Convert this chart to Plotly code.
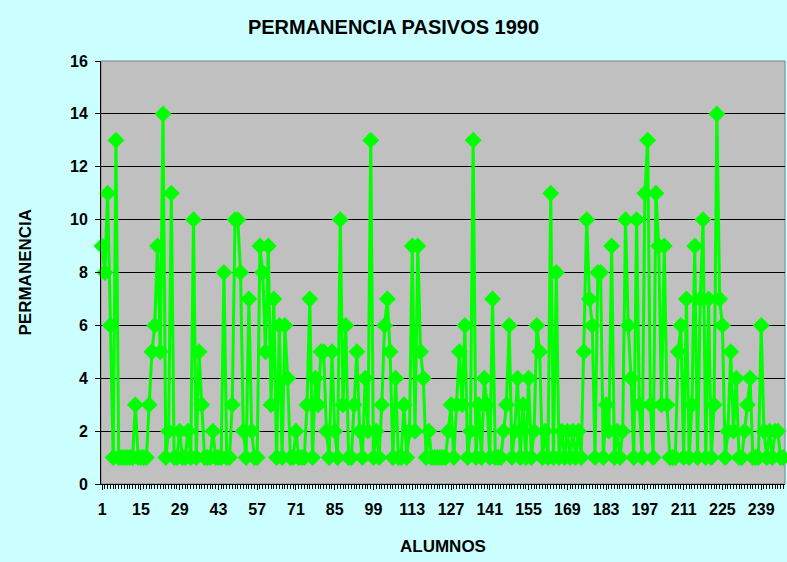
import plotly.graph_objects as go

# permanencia por alumno (1..247)
alumnos = list(range(1, 248))
permanencia = [
    9, 8, 11, 6, 1, 13, 1, 1, 1, 1,
    1, 1, 3, 1, 1, 1, 1, 3, 5, 6,
    9, 5, 14, 1, 2, 11, 1, 1, 2, 1,
    1, 2, 1, 10, 1, 5, 3, 1, 1, 1,
    2, 1, 1, 1, 8, 1, 1, 3, 10, 10,
    8, 2, 1, 7, 2, 1, 1, 9, 8, 5,
    9, 3, 7, 1, 6, 1, 6, 4, 1, 1,
    2, 1, 1, 1, 3, 7, 1, 4, 3, 5,
    5, 2, 1, 5, 2, 1, 10, 3, 6, 1,
    1, 3, 5, 2, 1, 4, 2, 13, 1, 2,
    1, 3, 6, 7, 5, 1, 4, 1, 1, 3,
    1, 2, 9, 2, 9, 5, 4, 1, 2, 1,
    1, 1, 1, 1, 1, 2, 3, 1, 3, 5,
    3, 6, 1, 2, 13, 1, 3, 1, 4, 3,
    1, 7, 1, 1, 1, 2, 3, 6, 1, 2,
    4, 1, 3, 1, 4, 1, 2, 6, 5, 1,
    2, 1, 11, 1, 8, 1, 2, 1, 2, 1,
    2, 1, 2, 1, 5, 10, 7, 6, 1, 8,
    8, 1, 3, 2, 9, 1, 2, 1, 2, 10,
    6, 4, 1, 10, 3, 1, 11, 13, 3, 1,
    11, 9, 3, 9, 3, 1, 1, 1, 5, 6,
    1, 7, 1, 3, 9, 1, 7, 10, 1, 7,
    1, 3, 14, 7, 6, 1, 2, 5, 2, 4,
    1, 1, 2, 3, 4, 1, 1, 1, 6, 2,
    1, 2, 1, 2, 2, 1, 1,
]
x_labels = list(range(1, 248, 14))

FONT = "Arial, Liberation Sans, sans-serif"
GREEN = "#00FF00"

fig = go.Figure(go.Scatter(
    x=alumnos, y=permanencia,
    mode="lines+markers",
    line=dict(color=GREEN, width=3),
    marker=dict(symbol="diamond", size=13, color=GREEN),
    cliponaxis=False,
    showlegend=False,
))

fig.update_layout(
    width=787, height=562,
    margin=dict(l=101, r=2, t=61, b=78),
    paper_bgcolor="#CCFFFF",
    plot_bgcolor="#C0C0C0",
    font=dict(family=FONT, color="black", size=16),
    title=dict(text="PERMANENCIA PASIVOS 1990", x=0.5, xanchor="center",
               y=1 - 27 / 562, yanchor="middle",
               font=dict(family=FONT, size=20, weight="bold")),
)

fig.update_xaxes(
    range=[0.6, 247.6],
    tickvals=x_labels,
    ticks="outside", ticklen=5, tickcolor="black",
    ticklabelstandoff=6,
    minor=dict(ticks="outside", ticklen=4, tick0=1, dtick=1, tickcolor="black", showgrid=False),
    showline=True, linecolor="black", linewidth=1,
    showgrid=False, zeroline=False,
    tickfont=dict(family=FONT, size=16, weight="bold"),
)
fig.update_yaxes(
    range=[0, 16], dtick=2,
    ticks="outside", ticklen=5, tickcolor="black",
    ticklabelstandoff=4,
    showline=True, linecolor="black", linewidth=1,
    showgrid=True, gridcolor="black", gridwidth=1,
    zeroline=False,
    tickfont=dict(family=FONT, size=16, weight="bold"),
)

# borde gris del area de trazado
fig.add_shape(type="rect", xref="paper", yref="paper", x0=0, x1=1, y0=0, y1=1,
              line=dict(color="#808080", width=1), layer="below")

fig.add_annotation(text="ALUMNOS", xref="paper", yref="paper", x=0.5, y=-62 / 423,
                   xanchor="center", yanchor="middle", showarrow=False,
                   font=dict(family=FONT, size=17, weight="bold"))
fig.add_annotation(text="PERMANENCIA", xref="paper", yref="paper", x=-76 / 684, y=0.5,
                   xanchor="center", yanchor="middle", showarrow=False, textangle=-90,
                   font=dict(family=FONT, size=17, weight="bold"))

fig.write_html("out.html", config={"displayModeBar": False},
               post_script="document.body.style.margin='0';")
